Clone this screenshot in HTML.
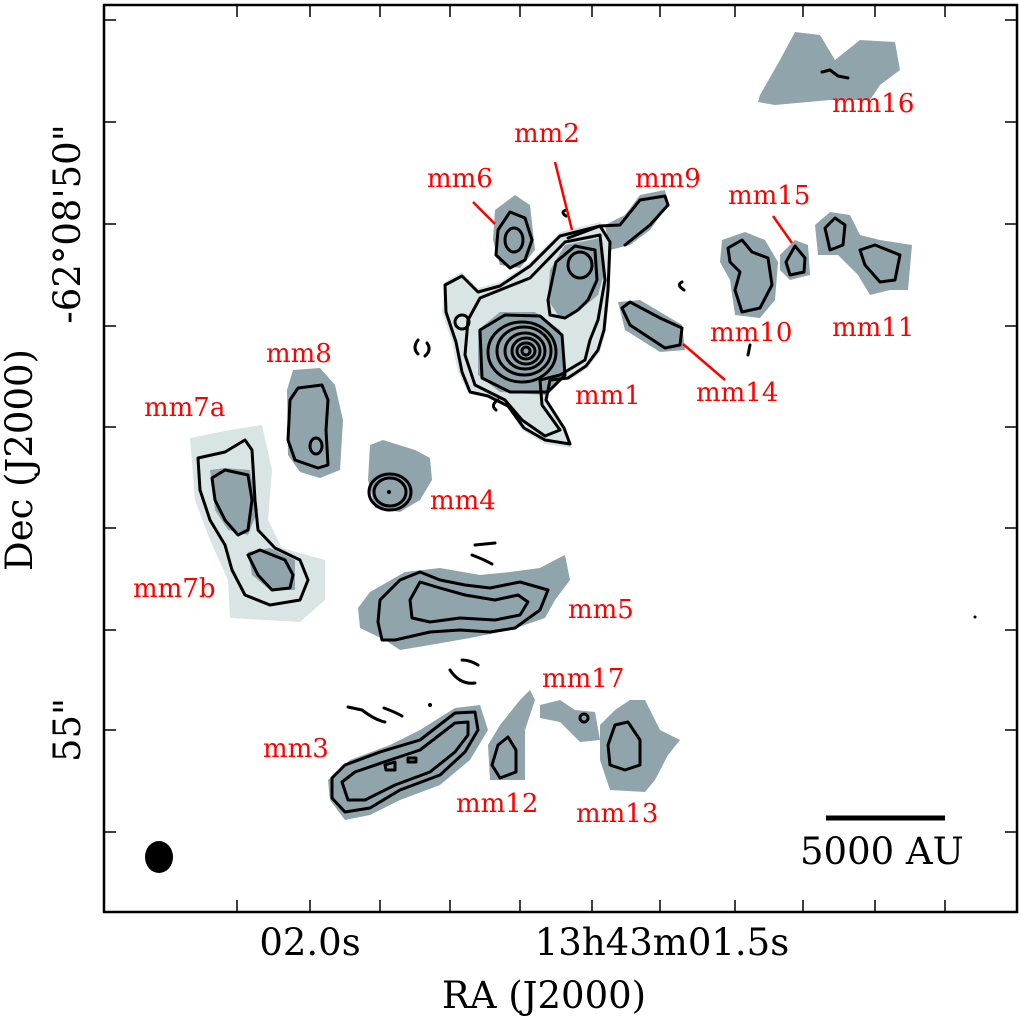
<!DOCTYPE html>
<html><head><style>
html,body{margin:0;padding:0;background:#fff;}
svg{display:block;}
.g{fill:#90a4ac;}
.l{fill:#d9e4e4;}
.c{fill:none;stroke:#000;stroke-width:3;stroke-linejoin:round;stroke-linecap:round;}
.r{font-family:"DejaVu Serif","Liberation Serif",serif;font-size:26px;fill:#f00;}
.a{font-family:"DejaVu Serif","Liberation Serif",serif;font-size:37px;fill:#000;}
.rl{stroke:#f00;stroke-width:2.5;}
</style></head><body>
<svg width="1020" height="1020" viewBox="0 0 1020 1020">
<path class="l" d="M445,282 L462,272 L478,288 L500,282 L530,262 L560,232 L600,222 L612,240 L610,290 L606,330 L600,352 L588,368 L570,380 L552,382 L548,400 L566,428 L572,448 L545,444 L522,430 L508,408 L488,398 L468,392 L458,372 L452,342 L442,312 Z"/>
<path class="l" d="M190,438 L230,430 L262,425 L272,470 L268,520 L282,548 L325,560 L325,600 L300,622 L230,618 L228,580 L210,540 L195,500 Z"/>
<path class="g" d="M760,95 L780,60 L795,32 L820,35 L835,60 L860,40 L895,42 L900,70 L880,85 L870,100 L830,100 L775,105 L758,102 Z"/>
<path class="g" d="M605,225 L625,215 L640,195 L665,190 L668,205 L650,230 L630,245 L610,250 Z"/>
<path class="g" d="M495,210 L515,195 L530,205 L535,250 L520,268 L500,265 L493,240 Z"/>
<path class="g" d="M550,270 L565,245 L600,238 L605,270 L598,295 L580,310 L560,318 L548,300 Z"/>
<path class="g" d="M478,330 L500,312 L535,312 L560,330 L565,375 L545,395 L500,392 L478,375 Z"/>
<path class="g" d="M618,302 L640,300 L682,325 L685,350 L660,352 L625,330 Z"/>
<path class="g" d="M722,240 L745,232 L765,240 L778,262 L775,300 L760,318 L735,315 L730,280 L720,262 Z"/>
<path class="g" d="M780,255 L795,240 L808,245 L810,275 L790,280 L780,270 Z"/>
<path class="g" d="M815,225 L830,212 L850,215 L860,235 L880,240 L912,245 L908,290 L890,290 L870,295 L858,275 L838,255 L818,255 Z"/>
<path class="g" d="M287,390 L293,370 L320,368 L335,385 L343,420 L340,470 L320,478 L300,472 L288,455 Z"/>
<path class="g" d="M210,470 L225,468 L250,470 L258,510 L248,535 L228,530 L215,510 Z"/>
<path class="g" d="M248,552 L270,548 L295,560 L295,590 L270,590 L252,575 Z"/>
<path class="g" d="M370,445 L383,440 L415,450 L430,458 L432,480 L420,500 L400,512 L375,508 L368,480 Z"/>
<path class="g" d="M358,608 L370,592 L405,572 L440,568 L480,575 L510,572 L540,568 L555,560 L565,555 L570,580 L555,600 L545,618 L510,630 L470,638 L430,645 L400,650 L385,640 L360,628 Z"/>
<path class="g" d="M328,780 L350,760 L390,745 L420,730 L455,708 L480,705 L488,730 L470,760 L440,785 L400,800 L370,815 L345,820 L330,800 Z"/>
<path class="g" d="M488,745 L500,725 L520,700 L530,690 L535,700 L525,730 L525,780 L490,780 Z"/>
<path class="g" d="M540,705 L560,700 L575,710 L595,712 L600,740 L580,742 L560,722 L540,718 Z"/>
<path class="g" d="M600,725 L615,710 L630,700 L645,700 L660,730 L680,740 L668,755 L655,780 L645,792 L610,790 L600,760 Z"/>
<path class="c" d="M445,285 L462,276 L478,292 L500,286 L530,266 L560,236 L600,226 L610,242 L608,290 L604,330 L598,350 L586,366 L568,378 L550,380 L546,400 L564,428 L570,444 L545,440 L524,428 L508,406 L488,396 L470,392 L462,372 L456,342 L446,312 Z"/>
<path class="c" d="M480,298 L530,278 L565,242 L600,235 L605,280 L598,320 L590,340 L585,360 L560,375 L540,380 L542,405 L560,430 L545,436 L522,420 L505,400 L475,385 L465,355 L468,320 Z"/>
<path class="c" d="M548,300 L556,262 L575,246 L595,250 L597,280 L588,300 L578,310 L565,318 L550,315 Z"/>
<ellipse class="c" cx="580" cy="265" rx="12" ry="13"/>
<path class="c" d="M480,330 L505,315 L540,316 L562,335 L565,375 L548,392 L510,392 L482,378 Z"/>
<ellipse class="c" cx="522" cy="352" rx="34" ry="30"/>
<ellipse class="c" cx="524" cy="351" rx="27" ry="24"/>
<ellipse class="c" cx="525" cy="351" rx="20" ry="18"/>
<ellipse class="c" cx="526" cy="351" rx="14" ry="13"/>
<ellipse class="c" cx="526" cy="351" rx="9" ry="8"/>
<ellipse class="c" cx="526" cy="351" rx="4" ry="4"/>
<ellipse class="c" cx="462" cy="322" rx="7" ry="7"/>
<path class="c" d="M568,238 L600,226 L620,225 L640,200 L665,196 L668,205 L650,225 L625,245"/>
<path class="c" d="M498,230 L510,212 L525,218 L532,240 L525,260 L510,268 L496,255 Z"/>
<ellipse class="c" cx="514" cy="240" rx="9" ry="12"/>
<path class="c" d="M622,308 L630,302 L660,318 L682,328 L680,345 L665,348 L630,325 Z"/>
<path class="c" d="M728,248 L742,240 L752,252 L768,258 L772,285 L760,308 L742,312 L735,290 L740,272 L730,262 Z"/>
<path class="c" d="M786,262 L795,246 L805,258 L804,272 L790,275 Z"/>
<path class="c" d="M825,228 L835,218 L845,225 L843,245 L830,250 Z"/>
<path class="c" d="M860,250 L875,245 L900,255 L895,280 L880,282 L865,265 Z"/>
<path class="c" d="M822,72 L830,70 L838,76 L848,78"/>
<path class="c" d="M290,400 L298,388 L322,385 L328,400 L326,430 L328,465 L318,468 L295,460 L288,440 Z"/>
<ellipse class="c" cx="316" cy="446" rx="6" ry="8"/>
<path class="c" d="M198,458 L225,452 L245,440 L252,450 L255,500 L258,530 L275,548 L300,560 L308,580 L300,600 L270,605 L245,595 L232,570 L225,545 L210,520 L200,490 Z"/>
<path class="c" d="M212,478 L225,470 L248,475 L252,500 L248,530 L238,535 L225,520 L215,500 Z"/>
<path class="c" d="M248,555 L260,550 L285,560 L293,575 L290,588 L272,590 L258,575 Z"/>
<ellipse class="c" cx="390" cy="492" rx="21" ry="18"/>
<ellipse class="c" cx="390" cy="492" rx="16" ry="14"/>
<circle cx="389" cy="492" r="2" fill="#000"/>
<path class="c" d="M378,622 L380,600 L400,580 L420,572 L440,580 L465,585 L490,588 L520,582 L548,590 L540,610 L515,628 L490,632 L460,630 L430,632 L395,640 L382,640 Z"/>
<path class="c" d="M410,600 L420,582 L440,588 L465,595 L495,600 L518,595 L528,602 L520,615 L495,620 L460,618 L430,622 L412,618 Z"/>
<path class="c" d="M332,778 L345,765 L380,752 L420,740 L455,713 L475,712 L478,730 L465,752 L440,775 L400,790 L370,808 L345,812 L332,798 Z"/>
<path class="c" d="M342,782 L355,772 L390,760 L420,750 L455,723 L468,722 L468,735 L455,752 L430,772 L395,785 L365,800 L348,800 Z"/>
<path class="c" d="M385,765 L395,762 L395,770 L386,770 Z"/>
<path class="c" d="M408,758 L416,758 L416,762 L408,762 Z"/>
<path class="c" d="M492,765 L498,745 L508,737 L516,750 L516,772 L500,778 Z"/>
<ellipse class="c" cx="584" cy="718" rx="4" ry="4"/>
<path class="c" d="M608,745 L615,725 L628,722 L640,740 L640,765 L625,770 L610,765 Z"/>
<path class="c" d="M418,340 Q412,348 418,354 M427,343 Q432,350 425,356"/>
<path class="c" d="M682,282 Q676,285 684,290"/>
<path class="c" d="M566,210 Q560,212 566,216"/>
<path class="c" d="M750,345 L748,355"/>
<path class="c" d="M498,400 Q490,405 496,410"/>
<path class="c" d="M475,545 L495,543 M472,555 Q485,560 492,564"/>
<path class="c" d="M450,670 Q460,685 475,683 M462,660 Q470,660 478,665"/>
<path class="c" d="M348,707 L362,710 Q375,720 385,722 M384,708 Q395,712 402,716"/>
<circle cx="430" cy="705" r="2" fill="#000"/>
<circle cx="975" cy="617" r="1.5" fill="#000"/>
<line class="rl" x1="473" y1="202" x2="495" y2="224"/>
<line class="rl" x1="555" y1="162" x2="572" y2="230"/>
<line class="rl" x1="773" y1="216" x2="792" y2="243"/>
<line class="rl" x1="683" y1="344" x2="725" y2="380"/>
<text class="r" x="832" y="112">mm16</text>
<text class="r" x="514" y="142">mm2</text>
<text class="r" x="427" y="187">mm6</text>
<text class="r" x="635" y="187">mm9</text>
<text class="r" x="728" y="204">mm15</text>
<text class="r" x="710" y="341">mm10</text>
<text class="r" x="832" y="336">mm11</text>
<text class="r" x="266" y="362">mm8</text>
<text class="r" x="575" y="404">mm1</text>
<text class="r" x="696" y="401">mm14</text>
<text class="r" x="144" y="416">mm7a</text>
<text class="r" x="430" y="509">mm4</text>
<text class="r" x="133" y="597">mm7b</text>
<text class="r" x="568" y="618">mm5</text>
<text class="r" x="542" y="687">mm17</text>
<text class="r" x="263" y="757">mm3</text>
<text class="r" x="456" y="812">mm12</text>
<text class="r" x="576" y="822">mm13</text>
<line x1="826" y1="818" x2="945" y2="818" stroke="#000" stroke-width="5"/>
<text class="a" x="800" y="864">5000 AU</text>
<ellipse cx="159" cy="857" rx="14" ry="16" fill="#000"/>
<rect x="104" y="5" width="913" height="907" fill="none" stroke="#000" stroke-width="2.5"/>
<g stroke="#000" stroke-width="1.5">
<line x1="104" y1="20" x2="116" y2="20"/><line x1="1017" y1="20" x2="1005" y2="20"/>
<line x1="104" y1="122" x2="116" y2="122"/><line x1="1017" y1="122" x2="1005" y2="122"/>
<line x1="104" y1="224" x2="116" y2="224"/><line x1="1017" y1="224" x2="1005" y2="224"/>
<line x1="104" y1="326" x2="116" y2="326"/><line x1="1017" y1="326" x2="1005" y2="326"/>
<line x1="104" y1="427" x2="116" y2="427"/><line x1="1017" y1="427" x2="1005" y2="427"/>
<line x1="104" y1="528" x2="116" y2="528"/><line x1="1017" y1="528" x2="1005" y2="528"/>
<line x1="104" y1="630" x2="116" y2="630"/><line x1="1017" y1="630" x2="1005" y2="630"/>
<line x1="104" y1="730" x2="116" y2="730"/><line x1="1017" y1="730" x2="1005" y2="730"/>
<line x1="104" y1="832" x2="116" y2="832"/><line x1="1017" y1="832" x2="1005" y2="832"/>
<line x1="237" y1="912" x2="237" y2="900"/><line x1="237" y1="5" x2="237" y2="17"/>
<line x1="310" y1="912" x2="310" y2="900"/><line x1="310" y1="5" x2="310" y2="17"/>
<line x1="380" y1="912" x2="380" y2="900"/><line x1="380" y1="5" x2="380" y2="17"/>
<line x1="450" y1="912" x2="450" y2="900"/><line x1="450" y1="5" x2="450" y2="17"/>
<line x1="520" y1="912" x2="520" y2="900"/><line x1="520" y1="5" x2="520" y2="17"/>
<line x1="592" y1="912" x2="592" y2="900"/><line x1="592" y1="5" x2="592" y2="17"/>
<line x1="660" y1="912" x2="660" y2="900"/><line x1="660" y1="5" x2="660" y2="17"/>
<line x1="735" y1="912" x2="735" y2="900"/><line x1="735" y1="5" x2="735" y2="17"/>
<line x1="803" y1="912" x2="803" y2="900"/><line x1="803" y1="5" x2="803" y2="17"/>
<line x1="875" y1="912" x2="875" y2="900"/><line x1="875" y1="5" x2="875" y2="17"/>
<line x1="945" y1="912" x2="945" y2="900"/><line x1="945" y1="5" x2="945" y2="17"/>
</g>
<text class="a" x="310" y="955" text-anchor="middle">02.0s</text>
<text class="a" x="662" y="955" text-anchor="middle">13h43m01.5s</text>
<text class="a" x="544" y="1008" text-anchor="middle">RA (J2000)</text>
<text class="a" transform="translate(80,224) rotate(-90)" text-anchor="middle">-62°08'50"</text>
<text class="a" transform="translate(80,730) rotate(-90)" text-anchor="middle">55"</text>
<text class="a" transform="translate(32,460) rotate(-90)" text-anchor="middle">Dec (J2000)</text>
</svg>
</body></html>
